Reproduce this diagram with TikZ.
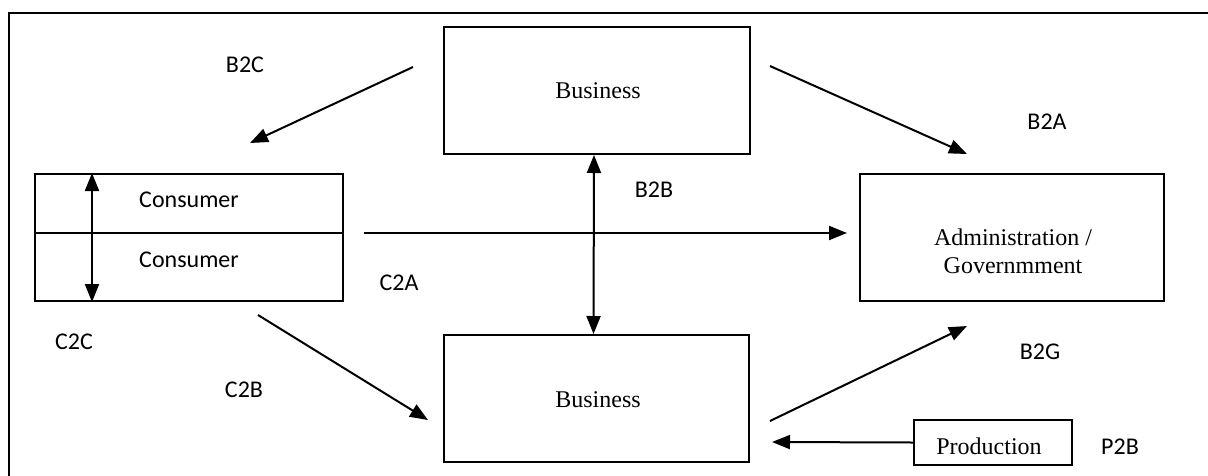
\documentclass[tikz,border=0pt]{standalone}
\usepackage{fontspec}
\setmainfont{Liberation Serif}
\newfontfamily\tagfont{Carlito}
\usetikzlibrary{arrows.meta,positioning}

\tikzset{
  box/.style={draw, line width=2pt, inner sep=0pt},
  txt/.style={inner sep=0pt, align=center, font=\fontsize{24}{28}\selectfont},
  tag/.style={inner sep=0pt, font=\tagfont\fontsize{24}{28}\selectfont},
  link/.style={line width=2pt, -{Triangle[length=18pt,width=14pt]}},
  twoway/.style={line width=2pt, {Triangle[length=18pt,width=14pt]}-{Triangle[length=18pt,width=14pt]}}
}

\begin{document}
\begin{tikzpicture}[x=1pt,y=-1pt]
\useasboundingbox (0,0) rectangle (1208,475);
\clip (0,0) rectangle (1208,475);
% outer frame
\draw[line width=2pt] (9,490) -- (9,13) -- (1220,13);

% boxes
\node[box, minimum width=306, minimum height=127] (bizTop) at (597,90.5) {};
\node[box, minimum width=305, minimum height=127] (bizBot) at (596.5,398.5) {};
\node[box, minimum width=308, minimum height=59] (conUp) at (189,203.5) {};
\node[box, minimum width=308, minimum height=68] (conDown) at (189,267) {};
\node[box, minimum width=304, minimum height=127] (admin) at (1012,237.5) {};
\node[box, minimum width=158, minimum height=45] (prod) at (993,442.5) {};

% texts in the boxes
\node[txt] (bizTopTxt) at (598,91) {Business};
\node[txt] (bizBotTxt) at (598,400) {Business};
\node[tag] (conUpTxt) at (189,200) {Consumer};
\node[tag] (conDownTxt) at (189,260) {Consumer};
\node[txt] (adminTxt) at (1013,251) {Administration /\\Governmment};
\node[txt] (prodTxt) at (989,446) {Production};

% free ends
\coordinate (b2cTail) at (413,67);
\coordinate (b2cTip) at (250,143);
\coordinate (b2aTail) at (770,66);
\coordinate (b2aTip) at (967,154);
\coordinate (c2aTail) at (364,233);
\coordinate (c2aTip) at (847,233);
\coordinate (c2bTail) at (258,315);
\coordinate (c2bTip) at (428,420);
\coordinate (b2gTail) at (770,421);
\coordinate (b2gTip) at (967,326);
\coordinate (p2bTip) at (772,442);

% connectors
\draw[link] (b2cTail) -- (b2cTip);
\draw[link] (b2aTail) -- (b2aTip);
\draw[link] (c2aTail) -- (c2aTip);
\draw[link] (c2bTail) -- (c2bTip);
\draw[link] (b2gTail) -- (b2gTip);
\draw[link] (prod.west) -- (p2bTip);
\draw[twoway] ([xshift=-3pt]bizTop.south) -- ([xshift=-3pt]bizBot.north);
\draw[twoway] ([xshift=58pt]conUp.north west) -- ([xshift=58pt]conDown.south west);

% labels
\node[tag] (b2c) at (245,65) {B2C};
\node[tag] (b2a) at (1047,122) {B2A};
\node[tag] (b2b) at (654,190) {B2B};
\node[tag] (c2a) at (399,283) {C2A};
\node[tag] (c2c) at (74,342) {C2C};
\node[tag] (c2b) at (244,390) {C2B};
\node[tag] (b2g) at (1040,352) {B2G};
\node[tag] (p2b) at (1120,447) {P2B};
\end{tikzpicture}
\end{document}
